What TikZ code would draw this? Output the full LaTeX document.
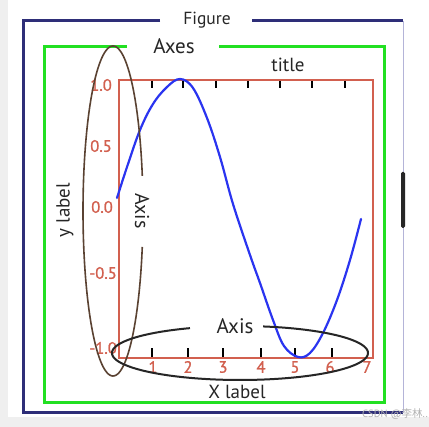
\documentclass[tikz,border=0pt]{standalone}
\usepackage{fontspec}
\setmainfont{PT Sans}
\newfontfamily\medfont[FakeBold=1.2]{PT Sans}
\newfontfamily\cjk{Noto Sans CJK SC}
\definecolor{navy}{HTML}{2E2E78}
\definecolor{lav}{HTML}{B4B4D8}
\definecolor{grn}{HTML}{22E022}
\definecolor{rd}{HTML}{D2604F}
\definecolor{brn}{HTML}{5A4232}
\definecolor{blu}{HTML}{2A34F0}
\definecolor{bg}{HTML}{EFEFEF}
\tikzset{
  lbl/.style={font=\fontsize{19}{21}\selectfont, text=black!85, inner sep=0pt},
  ticklbl/.style={font=\medfont\fontsize{16.5}{18}\selectfont, text=rd, inner sep=0pt},
  tk/.style={black, line width=1.5pt},
}
\begin{document}
\begin{tikzpicture}[x=1pt,y=-1pt]
\useasboundingbox (0,0) rectangle (429,427);
\fill[white] (0,0) rectangle (429,427);
\fill[bg] (0,0) rectangle (8,427);
\fill[bg] (0,417) rectangle (429,427);
% figure frame
\draw[lav, line width=1pt] (403,21) -- (403,413);
\draw[navy, line width=3pt] (160,21) -- (23,21) -- (23,413) -- (403,413);
\draw[navy, line width=3pt] (252,21) -- (403,21);
\node[lbl, font=\fontsize{17.5}{19}\selectfont] (fig) at (207,20) {Figure};
% artifact
\fill[black!85, rounded corners=1.5pt] (401,172) rectangle (405,228);
% axes frame
\draw[grn, line width=3pt] (127,47) -- (44,47) -- (44,403) -- (384,403) -- (384,47) -- (219,47);
\node[lbl, font=\fontsize{21}{23}\selectfont] (axes) at (174,46) {Axes};
\node[lbl] (title) at (288,65) {title};
% red axes box
\draw[rd, line width=2pt] (119,80) rectangle (373,358);
% top ticks
\foreach \t in {152,183,216,248,280,312,345} \draw[tk] (\t,81) -- (\t,88);
% bottom ticks
\foreach \t in {152,188,223,261,295,332} \draw[tk] (\t,357) -- (\t,348);
% tick labels
\foreach \t/\l in {153/1,188/2,223/3,261/4,295/5,330/6,367/7}
  \node[ticklbl] (x\l) at (\t,367) {\l};
\node[ticklbl, anchor=east] (y1) at (112,85) {1.0};
\node[ticklbl, anchor=east] (y2) at (112,146) {0.5};
\node[ticklbl, anchor=east] (y3) at (113,207) {0.0};
\node[ticklbl, anchor=east] (y4) at (117,273) {-0.5};
\node[ticklbl, anchor=east] (y5) at (117,348) {-1.0};
% blue curve
\draw[blu, line width=2.2pt, line cap=round] plot[smooth, tension=0.6] coordinates {
 (117,198) (127,167) (140,130) (153,104) (167,87) (180,79) (193,88) (207,118) (220,157) (233,204)
 (250,255) (260,283) (273,320) (284,346) (298,357) (310,353) (323,333) (337,300) (350,260) (361,219)};
% brown ellipse
\draw[brn, line width=1.6pt] plot[domain=12.3:347.4, samples=160] ({113+30*cos(\x)},{211-165*sin(\x)});
\node[lbl, font=\fontsize{20}{22}\selectfont, rotate=-90] (axisy) at (142,211) {Axis};
% black ellipse
\draw[black!85, line width=2pt] plot[domain=113:439.6, samples=160] ({240+128*cos(\x)},{353-27*sin(\x)});
\node[lbl, font=\fontsize{21}{23}\selectfont] (axisx) at (235,326) {Axis};
\node[lbl] (xlabel) at (237,392) {X label};
\node[lbl, rotate=90] (ylabel) at (65,210) {y label};
% watermark
\node[font=\fontsize{10.5}{12}\selectfont, text=black!30, anchor=west, inner sep=0pt] (wm) at (362,414) {CSDN @{\cjk 李林}..};
\end{tikzpicture}
\end{document}
